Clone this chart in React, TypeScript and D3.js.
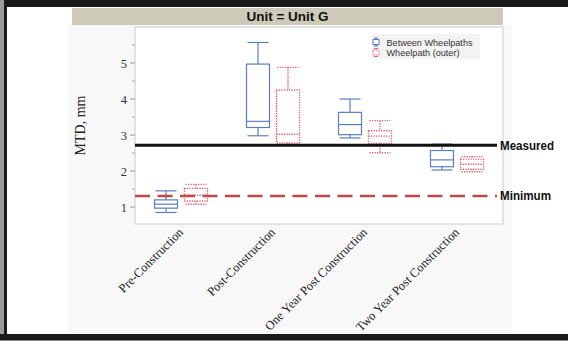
import React from "react";
import * as d3 from "d3";

const categories = [
  "Pre-Construction",
  "Post-Construction",
  "One Year Post Construction",
  "Two Year Post Construction",
];
const seriesNames = ["Between Wheelpaths", "Wheelpath (outer)"];
// [low whisker, Q1, median, Q3, high whisker]
const betweenWheelpaths: number[][] = [
  [0.85, 0.97, 1.08, 1.2, 1.45],
  [2.98, 3.21, 3.38, 4.97, 5.57],
  [2.92, 3.01, 3.29, 3.63, 4.0],
  [2.03, 2.12, 2.31, 2.57, 2.75],
];
const wheelpathOuter: number[][] = [
  [1.08, 1.17, 1.33, 1.52, 1.63],
  [2.72, 2.78, 3.02, 4.25, 4.88],
  [2.51, 2.77, 2.97, 3.12, 3.4],
  [1.98, 2.05, 2.19, 2.33, 2.4],
];
const yTickLabels = [1, 2, 3, 4, 5];
const yMinorTicks = [1.5, 2.5, 3.5, 4.5, 5.5];
const measuredValue = 2.72;
const minimumValue = 1.31;
const title = "Unit = Unit G";
const yTitle = "MTD, mm";

const W = 568;
const H = 341;
const plotL = 135, plotR = 503, plotT = 27, plotB = 224;

const BLUE = "#5b7fbd";
const RED = "#e06676";

export default function App() {
  const y = d3.scaleLinear().domain([0.53, 6.0]).range([plotB, plotT]);
  const x = d3.scaleBand<string>().domain(categories).range([plotL, plotR]);
  const bw = x.bandwidth();
  const sub = d3.scalePoint<string>().domain(seriesNames).range([bw * 0.337, bw * 0.663]);
  const boxW = 23;
  const capW = 21;
  const allSeries = [
    { name: seriesNames[0], data: betweenWheelpaths, color: BLUE, dash: undefined as string | undefined },
    { name: seriesNames[1], data: wheelpathOuter, color: RED, dash: "1.3,1.2" },
  ];
  const serif = "'Liberation Serif', 'Times New Roman', serif";
  const sans = "'Liberation Sans', Arial, sans-serif";

  return (
    <svg width={W} height={H} style={{ position: "absolute", left: 0, top: 0, display: "block" }}>
      <rect x={0} y={0} width={W} height={H} fill="#ffffff" />
      {/* panel background */}
      <rect x={68} y={25} width={444} height={309} fill="#f8f8f8" />
      {/* frame */}
      <rect x={0} y={0} width={W} height={7} fill="#1a1a1a" />
      <rect x={0} y={0} width={4} height={H} fill="#9a9a9a" />
      <rect x={4} y={0} width={3} height={H} fill="#1a1a1a" />
      <rect x={0} y={334} width={W} height={6} fill="#1a1a1a" />
      <rect x={0} y={340} width={W} height={1} fill="#8a8a8a" />
      {/* title bar */}
      <rect x={72} y={8} width={431} height={17} fill="#cdcbb7" />
      <text x={287.5} y={21} textAnchor="middle" fontFamily={sans} fontWeight="bold" fontSize={13.5} fill="#111">
        {title}
      </text>
      {/* plot area */}
      <rect x={plotL} y={plotT} width={plotR - plotL} height={plotB - plotT} fill="#ffffff" stroke="#cccccc" strokeWidth={1} />
      {/* y ticks */}
      {yTickLabels.map((t) => (
        <g key={"t" + t}>
          <line x1={plotL - 5} x2={plotL} y1={y(t)} y2={y(t)} stroke="#999" strokeWidth={1} />
          <text x={plotL - 8} y={y(t) + 4.5} textAnchor="end" fontFamily={serif} fontSize={12.5} fill="#333">
            {t}
          </text>
        </g>
      ))}
      {yMinorTicks.map((t) => (
        <line key={"m" + t} x1={plotL - 3} x2={plotL} y1={y(t)} y2={y(t)} stroke="#aaa" strokeWidth={1} />
      ))}
      <text
        transform={`translate(85,${(plotT + plotB) / 2}) rotate(-90)`}
        textAnchor="middle"
        fontFamily={serif}
        fontSize={14}
        fill="#222"
      >
        {yTitle}
      </text>
      {/* x labels */}
      {categories.map((c) => {
        const cx = (x(c) as number) + bw / 2 + 3;
        return (
          <text
            key={c}
            transform={`translate(${cx},233) rotate(-45)`}
            textAnchor="end"
            fontFamily={serif}
            fontSize={12.5}
            fill="#222"
          >
            {c}
          </text>
        );
      })}
      {/* legend */}
      <rect x={372} y={34} width={108} height={25} fill="#f3f3f3" />
      {allSeries.map((s, i) => {
        const ly = 42 + i * 10.5;
        return (
          <g key={s.name}>
            <line x1={376} x2={376} y1={ly - 4} y2={ly + 4} stroke={s.color} strokeWidth={1} strokeDasharray={s.dash} />
            <rect x={373} y={ly - 2.5} width={6} height={5} fill="#fff" stroke={s.color} strokeWidth={1} strokeDasharray={s.dash} />
            <line x1={374} x2={378} y1={ly - 4} y2={ly - 4} stroke={s.color} strokeWidth={1} />
            <line x1={374} x2={378} y1={ly + 4} y2={ly + 4} stroke={s.color} strokeWidth={1} />
            <text x={386.5} y={ly + 3.5} fontFamily={sans} fontSize={9.5} fill="#333" textLength={i === 0 ? 86 : 73} lengthAdjust="spacingAndGlyphs">
              {s.name}
            </text>
          </g>
        );
      })}
      {/* boxes */}
      {allSeries.map((s) =>
        categories.map((c, ci) => {
          const [lo, q1, med, q3, hi] = s.data[ci];
          const cx = (x(c) as number) + (sub(s.name) as number);
          const sw = s.dash ? 1.4 : 1.2;
          return (
            <g key={s.name + c} stroke={s.color} strokeWidth={sw} strokeDasharray={s.dash} fill="none">
              <line x1={cx} x2={cx} y1={y(hi)} y2={y(q3)} />
              <line x1={cx} x2={cx} y1={y(q1)} y2={y(lo)} />
              <line x1={cx - capW / 2} x2={cx + capW / 2} y1={y(hi)} y2={y(hi)} />
              <line x1={cx - capW / 2} x2={cx + capW / 2} y1={y(lo)} y2={y(lo)} />
              <rect x={cx - boxW / 2} y={y(q3)} width={boxW} height={y(q1) - y(q3)} />
              <line x1={cx - boxW / 2} x2={cx + boxW / 2} y1={y(med)} y2={y(med)} />
            </g>
          );
        })
      )}
      {/* reference lines */}
      <line x1={plotL} x2={497} y1={y(measuredValue)} y2={y(measuredValue)} stroke="#111" strokeWidth={3} />
      <line
        x1={plotL}
        x2={497}
        y1={y(minimumValue)}
        y2={y(minimumValue)}
        stroke="#c0474a"
        strokeWidth={2.5}
        strokeDasharray="15,7.5"
      />
      <text x={500} y={y(measuredValue) + 4.5} fontFamily={sans} fontWeight="bold" fontSize={12.5} fill="#111" textLength={54} lengthAdjust="spacingAndGlyphs">
        Measured
      </text>
      <text x={500} y={y(minimumValue) + 4.5} fontFamily={sans} fontWeight="bold" fontSize={12.5} fill="#111" textLength={51} lengthAdjust="spacingAndGlyphs">
        Minimum
      </text>
    </svg>
  );
}
